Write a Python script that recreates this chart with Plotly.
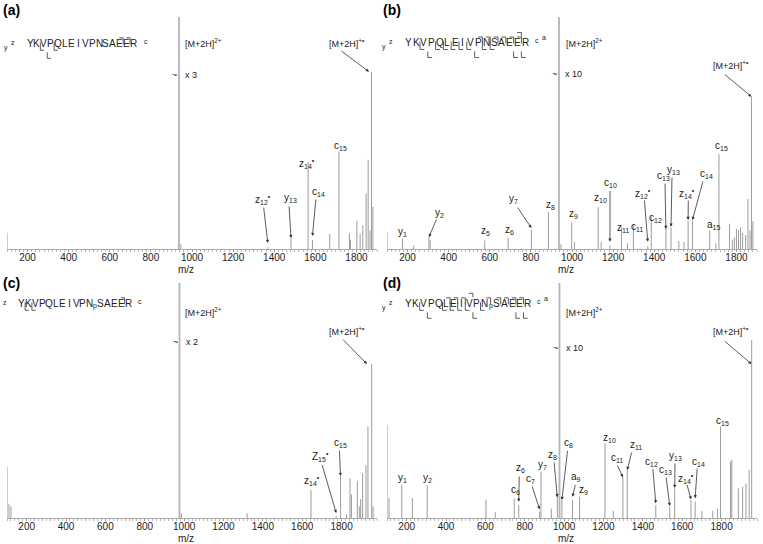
import plotly.graph_objects as go

W, H = 763, 544
FONT = "Liberation Sans, Arial, sans-serif"
SEQ = list("YKVPQLEIVPNSAEER")

# ---------------- data: panel (a) ----------------
a_mz = [100, 946, 1368.7, 1481.8, 1564.8, 1585.9, 1670, 1714.9, 1766, 1771, 1802, 1818, 1831, 1847, 1857, 1866, 1873, 1880]
a_int = [7, 2, 0.8, 4.7, 37.6, 3.9, 6.5, 42, 6.8, 4, 12.2, 6.6, 10.3, 24, 38.4, 8, 76.4, 18.2]
a_prec2 = 936.5
a_prec1 = 1873
a_ion_text = ["z<sub>12</sub><sup>•</sup>", "y<sub>13</sub>", "z<sub>14</sub><sup>•</sup>", "c<sub>14</sub>", "c<sub>15</sub>"]
a_ion_mz = [1368.7, 1481.8, 1564.8, 1585.9, 1714.9]
a_z, a_y, a_c, a_a = [14, 12], [13], [14, 15], []

# ---------------- data: panel (b) ----------------
b_mz = [100, 175.1, 230, 304.2, 310, 575.3, 689.3, 802.4, 885.4, 946, 998.5, 1012, 1127.6, 1142, 1184.7,
        1240.6, 1270, 1298.8, 1368.7, 1385.8, 1456.8, 1481.8, 1520, 1545, 1564.8, 1585.9, 1669.9, 1700,
        1714.9, 1766, 1780, 1790, 1800, 1810, 1820, 1830, 1845, 1856, 1866, 1873, 1880]
b_int = [7.2, 4.4, 1.6, 5.4, 4, 3.7, 4.9, 8.3, 15.9, 2, 11.5, 3, 18, 3, 1.5,
         9.3, 2.5, 10.5, 1.2, 13.9, 9, 9.3, 3.5, 3, 12.2, 12.2, 8, 2.5,
         41, 10.9, 4, 5, 8.7, 8, 9.3, 7, 6, 21.6, 8, 65.6, 12]
b_prec2 = 936.5
b_prec1 = 1873
b_ion_text = ["y<sub>1</sub>", "y<sub>2</sub>", "z<sub>5</sub>", "z<sub>6</sub>", "y<sub>7</sub>", "z<sub>8</sub>",
              "z<sub>9</sub>", "z<sub>10</sub>", "c<sub>10</sub>", "z<sub>11</sub>", "c<sub>11</sub>", "c<sub>12</sub>",
              "z<sub>12</sub><sup>•</sup>", "c<sub>13</sub>", "y<sub>13</sub>", "z<sub>14</sub><sup>•</sup>",
              "c<sub>14</sub>", "a<sub>15</sub>", "c<sub>15</sub>"]
b_ion_mz = [175.1, 304.2, 575.3, 689.3, 802.4, 885.4, 998.5, 1127.6, 1184.7, 1240.6, 1298.8, 1385.8,
            1368.7, 1456.8, 1481.8, 1564.8, 1585.9, 1669.9, 1714.9]
b_z, b_y, b_c, b_a = [5, 6, 8, 9, 10, 11, 12, 14], [1, 2, 7, 13], [10, 11, 12, 13, 14, 15], [15]

# ---------------- data: panel (c) ----------------
c_mz = [100, 110, 120, 986, 1320, 1644.8, 1772.9, 1794.9, 1825, 1843, 1850, 1880, 1890, 1897, 1907, 1924, 1934, 1953, 1960]
c_int = [21.8, 6, 5, 2, 2, 11.9, 0.8, 17.9, 1.5, 16.9, 10, 15.9, 5, 8, 19, 22.5, 38.9, 65.5, 5]
c_prec2 = 976.5
c_prec1 = 1953
c_ion_text = ["z<sub>14</sub><sup>•</sup>", "Z<sub>15</sub><sup>•</sup>", "c<sub>15</sub>"]
c_ion_mz = [1644.8, 1772.9, 1794.9]
c_z, c_y, c_c, c_a = [14, 15], [], [15], []

# ---------------- data: panel (d) ----------------
d_mz = [100, 110, 175.1, 229, 304.2, 603, 650, 746.5, 769.3, 875.5, 882.3, 935, 965.4, 988.6, 1042.6, 1078.5,
        1207.5, 1250, 1298.8, 1320.6, 1465.8, 1536.8, 1561.7, 1644.8, 1665.8, 1700, 1755, 1780, 1794.9,
        1845, 1852, 1885, 1907, 1924, 1940, 1953]
d_int = [39.6, 8.5, 14, 8.5, 14, 7.7, 2.5, 8.4, 5.5, 2.7, 19.7, 4, 10.6, 7.7, 7.7, 9,
         31.8, 3, 17.6, 20.4, 5.5, 4.8, 12.6, 7.7, 7, 3, 3, 4, 38.9,
         24, 24.7, 12.6, 13.3, 14.7, 20.4, 75.7]
d_prec2 = 976.5
d_prec1 = 1953
d_ion_text = ["y<sub>1</sub>", "y<sub>2</sub>", "c<sub>6</sub>", "z<sub>6</sub>", "c<sub>7</sub>", "y<sub>7</sub>",
              "z<sub>8</sub>", "c<sub>8</sub>", "a<sub>9</sub>", "z<sub>9</sub>", "z<sub>10</sub>", "c<sub>11</sub>",
              "z<sub>11</sub>", "c<sub>12</sub>", "c<sub>13</sub>", "y<sub>13</sub>", "z<sub>14</sub><sup>•</sup>",
              "c<sub>14</sub>", "c<sub>15</sub>"]
d_ion_mz = [175.1, 304.2, 746.5, 769.3, 875.5, 882.3, 965.4, 988.6, 1042.6, 1078.5, 1207.5, 1298.8,
            1320.6, 1465.8, 1536.8, 1561.7, 1644.8, 1665.8, 1794.9]
d_z, d_y, d_c, d_a = [6, 8, 9, 10, 11, 14], [1, 2, 7, 13], [6, 7, 8, 11, 12, 13, 14, 15], [9]

tick_vals = [200, 400, 600, 800, 1000, 1200, 1400, 1600, 1800]

# ---------------- layout specs (pixel placement of labels) ----------------
# per ion: label centre (px,py), arrow tail (px,py) or None, arrow head py
a_lab = [((263, 199), (263.5, 206), 243), ((290, 198), (289, 205), 238), ((307, 163), None, None),
         ((318, 192), (316, 198), 236), ((340, 146), None, None)]
b_lab = [((402.7, 231.7), None, None), ((439.3, 212.7), (437, 218), 237), ((485.3, 230.7), None, None),
         ((509.3, 230), None, None), ((513.3, 199), (516.7, 206), 228), ((550, 205), None, None),
         ((573.3, 214.3), None, None), ((600, 198.3), None, None), ((610, 183.3), (610, 189.5), 241.7),
         ((623.3, 228.3), None, None), ((636.7, 226.7), None, None), ((655, 218.3), None, None),
         ((643.3, 193.3), (644.3, 199), 241.7), ((663.3, 175.7), (665, 182), 229),
         ((673.3, 170), (672, 176), 226.7), ((686.7, 193.3), (688.3, 199), 220),
         ((706.7, 174), (703.3, 180), 220), ((713.3, 225), None, None), ((721.7, 146), None, None)]
c_lab = [((312.3, 480), None, None), ((320, 456.7), (321.7, 463.5), 513), ((340, 443.3), (339.3, 449), 476)]
d_lab = [((402.7, 478.3), None, None), ((427.7, 478.3), None, None), ((515, 490), None, None),
         ((520, 468.3), (519.3, 475), 501.7), ((530.7, 479.3), (531.7, 485), 509.3), ((542.3, 465), None, None),
         ((552.7, 455), (554, 461), 497.3), ((568.3, 443.3), (567.7, 449.3), 500),
         ((576.2, 477.3), (575.7, 483.5), 496.7), ((583, 490), None, None), ((609.3, 438.3), None, None),
         ((617.3, 458.3), (616.7, 464), 477.3), ((636, 445), (632, 451), 470),
         ((651.7, 461.7), (652.7, 467.3), 503.3), ((665, 470), (666, 476), 506),
         ((675, 456), (675, 462), 488), ((686, 478.3), (686.7, 483.5), 499.3),
         ((698.3, 461.7), (697.3, 467), 498.3), ((722.7, 420.7), None, None)]

panels = [
    dict(tag="(a)", mz=a_mz, inten=a_int, p2=a_prec2, p1=a_prec1, it=a_ion_text, im=a_ion_mz, lab=a_lab,
         cz=a_z, cy=a_y, cc=a_c, ca=a_a, phos=False, mult="x 3",
         x0=7, x1=377, ytop=17, ybase=249, xmin=100, xmax=1900,
         seq=dict(x=30, step=6.9, y=43.3, extra=0),
         p1lab=((346.7, 43.3), (340, 50), (369, 71.7)), p2lab=(183, 43), multy=75, taglab=(1, 10)),
    dict(tag="(b)", mz=b_mz, inten=b_int, p2=b_prec2, p1=b_prec1, it=b_ion_text, im=b_ion_mz, lab=b_lab,
         cz=b_z, cy=b_y, cc=b_c, ca=b_a, phos=False, mult="x 10",
         x0=387, x1=757, ytop=17, ybase=249, xmin=100, xmax=1900,
         seq=dict(x=408.3, step=7.8, y=42.5, extra=0),
         p1lab=((730, 65), (723.3, 73.3), (751.5, 96.7)), p2lab=(564, 43), multy=74, taglab=(381, 10)),
    dict(tag="(c)", mz=c_mz, inten=c_int, p2=c_prec2, p1=c_prec1, it=c_ion_text, im=c_ion_mz, lab=c_lab,
         cz=c_z, cy=c_y, cc=c_c, ca=c_a, phos=True, mult="x 2",
         x0=7, x1=377, ytop=283, ybase=518, xmin=100, xmax=1980,
         seq=dict(x=21.7, step=6.8, y=303.3, extra=4.3),
         p1lab=((346.7, 331), (341.7, 338.3), (367, 364)), p2lab=(183, 311.7), multy=341.7, taglab=(1, 283)),
    dict(tag="(d)", mz=d_mz, inten=d_int, p2=d_prec2, p1=d_prec1, it=d_ion_text, im=d_ion_mz, lab=d_lab,
         cz=d_z, cy=d_y, cc=d_c, ca=d_a, phos=True, mult="x 10",
         x0=387, x1=757, ytop=283, ybase=518, xmin=100, xmax=1980,
         seq=dict(x=408.3, step=7.6, y=303.3, extra=5),
         p1lab=((730, 331), (723.3, 340), (751.5, 364)), p2lab=(564, 311.7), multy=348.3, taglab=(381, 283)),
]

fig = go.Figure()
annotations = []
shapes = []


def pxX(p, px):
    return p["xmin"] + (px - p["x0"]) / (p["x1"] - p["x0"]) * (p["xmax"] - p["xmin"])


def pyY(p, py):
    return (p["ybase"] - py) / (p["ybase"] - p["ytop"]) * 100


def paper(px, py):
    return px / W, 1 - py / H


def line(x0, y0, x1, y1, w=0.8, col="#333"):
    a0, b0 = paper(x0, y0)
    a1, b1 = paper(x1, y1)
    shapes.append(dict(type="line", xref="paper", yref="paper", x0=a0, y0=b0, x1=a1, y1=b1,
                       line=dict(color=col, width=w)))


def ptext(txt, px, py, size=10, xanchor="center", bold=False, col="#222"):
    a, b = paper(px, py)
    annotations.append(dict(text=("<b>%s</b>" % txt) if bold else txt, x=a, y=b, xref="paper", yref="paper",
                            showarrow=False, xanchor=xanchor, yanchor="middle",
                            font=dict(family=FONT, size=size, color=col)))


for i, p in enumerate(panels):
    sfx = "" if i == 0 else str(i + 1)
    xa, ya = "x" + sfx, "y" + sfx
    xs, ys = [], []
    for m, v in zip(p["mz"], p["inten"]):
        xs += [m, m, None]
        ys += [0, v, None]
    fig.add_trace(go.Scatter(x=xs, y=ys, mode="lines", line=dict(color="#9c9c9c", width=1),
                             xaxis=xa, yaxis=ya, showlegend=False, hoverinfo="skip"))
    fig.add_trace(go.Scatter(x=[p["p2"], p["p2"]], y=[0, 100], mode="lines",
                             line=dict(color="#b4b4b4", width=1.8),
                             xaxis=xa, yaxis=ya, showlegend=False, hoverinfo="skip"))
    fig.layout["xaxis" + sfx] = dict(
        domain=[p["x0"] / W, p["x1"] / W], range=[p["xmin"], p["xmax"]], anchor=ya,
        tickvals=tick_vals, ticks="outside", ticklen=2, tickcolor="#999", tickwidth=1,
        ticklabelstandoff=-3,
        showline=True, linecolor="#aaa", linewidth=1, showgrid=False, zeroline=False,
        tickfont=dict(family=FONT, size=10, color="#222"), automargin=False,
        minor=dict(ticks="outside", dtick=20, tick0=0, ticklen=2, tickcolor="#bbb"))
    fig.layout["yaxis" + sfx] = dict(domain=[1 - p["ybase"] / H, 1 - p["ytop"] / H], range=[0, 100],
                                     visible=False, anchor=xa, fixedrange=True)

    def dann(text, x, y, size=10, **kw):
        d = dict(text=text, x=x, y=y, xref=xa, yref=ya, showarrow=False,
                 font=dict(family=FONT, size=size, color="#222"), xanchor="center", yanchor="middle")
        d.update(kw)
        annotations.append(d)

    def arrow(tx, ty, hx, hy):
        annotations.append(dict(text="", x=hx, y=hy, ax=tx, ay=ty, xref=xa, yref=ya, axref=xa, ayref=ya,
                                showarrow=True, arrowhead=2, arrowsize=0.8, arrowwidth=0.8,
                                arrowcolor="#333", standoff=0, startstandoff=0))

    # ion labels
    for txt, m, (lab, tail, hpy) in zip(p["it"], p["im"], p["lab"]):
        dann(txt, pxX(p, lab[0]), pyY(p, lab[1]))
        if tail is not None:
            arrow(pxX(p, tail[0]), pyY(p, tail[1]), m, pyY(p, hpy))

    # precursor labels
    (lx, ly), (tx, ty), (hx, hy) = p["p1lab"]
    dann("[M+2H]<sup>+•</sup>", pxX(p, lx), pyY(p, ly), size=9)
    arrow(pxX(p, tx), pyY(p, ty), pxX(p, hx), pyY(p, hy))
    dann("[M+2H]<sup>2+</sup>", pxX(p, p["p2lab"][0]), pyY(p, p["p2lab"][1]), size=9, xanchor="left")
    dann("~", p["p2"], pyY(p, p["multy"]), size=9, xanchor="right")
    dann(p["mult"], pxX(p, p["x0"] + (p["p2"] - p["xmin"]) / (p["xmax"] - p["xmin"]) * (p["x1"] - p["x0"]) + 4),
         pyY(p, p["multy"]), size=9, xanchor="left")

    # axis title and panel tag
    ptext("m/z", (p["x0"] + p["x1"]) / 2 - 6, p["ybase"] + 20, size=10)
    ptext(p["tag"], p["taglab"][0], p["taglab"][1], size=14, xanchor="left", bold=True, col="#000")

    # peptide sequence with cleavage marks
    s = p["seq"]
    xs_l = []
    for k in range(len(SEQ)):
        x = s["x"] + k * s["step"] + (s["extra"] if (p["phos"] and k >= 11) else 0)
        xs_l.append(x)
        ptext(SEQ[k], x, s["y"], size=10)
    if p["phos"]:
        ptext("p", xs_l[11] - 5.5, s["y"] + 3, size=7)
    top, base = s["y"] - 4, s["y"] + 4
    hw = s["step"] * 0.55

    def gap(n):
        return (xs_l[n - 1] + xs_l[n]) / 2

    for n in p["cz"]:
        g = gap(16 - n)
        line(g, s["y"] - 1, g, base + 3)
        line(g, base + 3, g + hw, base + 3)
    for n in p["cy"]:
        g = gap(16 - n)
        line(g, base + 5, g, base + 11)
        line(g, base + 11, g + hw, base + 11)
    for n in p["cc"]:
        g = gap(n)
        line(g - hw, top - 1.5, g, top - 1.5)
        line(g, top - 1.5, g, s["y"] + 1)
    for n in p["ca"]:
        g = gap(n)
        line(g - hw, top - 6, g, top - 6)
        line(g, top - 6, g, top - 2)
    if p["cy"]:
        ptext("y", s["x"] - 24, s["y"] + 5, size=7)
    if p["cz"]:
        ptext("z", s["x"] - 17, s["y"] - 1, size=7)
    if p["cc"]:
        ptext("c", xs_l[-1] + 12, s["y"] - 1.5, size=7)
    if p["ca"]:
        ptext("a", xs_l[-1] + 18.5, s["y"] - 5, size=7)

fig.update_layout(width=W, height=H, margin=dict(l=0, r=0, t=0, b=0),
                  paper_bgcolor="white", plot_bgcolor="white",
                  annotations=annotations, shapes=shapes, showlegend=False)
fig.write_html("out.html", config={"displayModeBar": False},
               post_script="document.body.style.margin='0px';document.body.style.overflow='hidden';")
